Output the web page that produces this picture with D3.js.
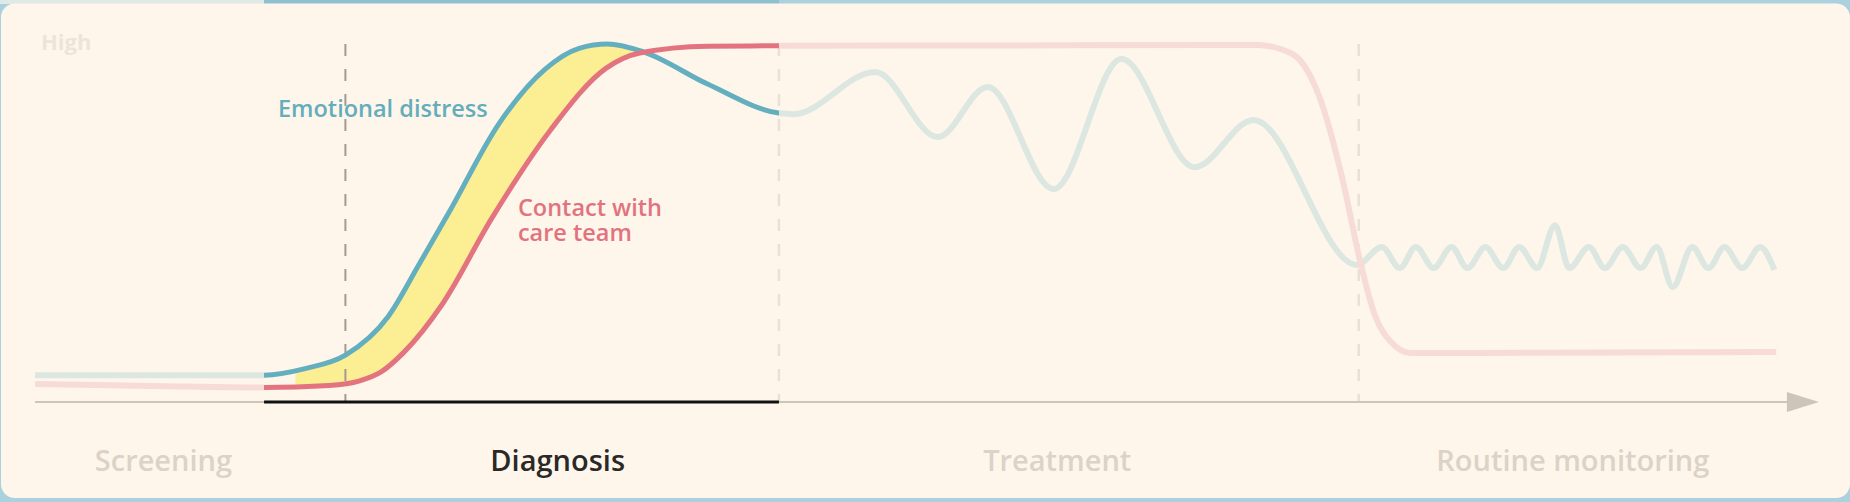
<!DOCTYPE html>
<html>
<head>
<meta charset="utf-8">
<script src="https://cdn.jsdelivr.net/npm/d3@7"></script>
<style>
  html, body { margin: 0; padding: 0; background: #aad1dd; }
  svg { display: block; }
  text { font-family: "Open Sans", "Noto Sans", sans-serif; }
</style>
</head>
<body>
<div id="chart"></div>
<script>
// phases of the care pathway, and where each one starts on the time axis (0-100)
const phases = ["Screening", "Diagnosis", "Treatment", "Routine monitoring"];
const phaseStart = [0, 12.84, 41.7, 74.2];
const phaseLabelAt = [7.2, 29.3, 57.3, 86.2];
const activePhase = "Diagnosis";
const diagnosisMoment = 17.4;   // darker dashed marker
const gapStart = 14.6;          // yellow gap between the two curves starts here

// emotional distress (level 0-100)
const distressT = [0, 12.8, 15.2, 17.4, 19.8, 21.5, 23.2, 26.0, 28.6, 30.5, 32.1, 34.1, 37.7, 41.7,
  42.5, 47.1, 50.6, 53.4, 57.1, 60.9, 65.0, 68.3, 74.1,
  75.5, 76.5, 77.4, 78.4, 79.4, 80.3, 81.3, 82.3, 83.2, 84.2, 85.2, 86.0, 87.1, 88.0,
  89.0, 90.0, 90.9, 91.8, 92.9, 93.8, 94.7, 95.7, 96.7, 97.5];
const distressLevel = [7.5, 7.5, 9.4, 13.1, 23.9, 38.2, 52.9, 77.7, 93.0, 98.8, 100, 97.8, 88.8, 80.7,
  80.4, 92.2, 74.0, 88.0, 59.5, 95.8, 65.6, 78.8, 38.3,
  43.3, 37.4, 43.3, 37.4, 43.3, 37.4, 43.3, 37.4, 43.3, 37.4, 49.4, 37.4, 43.3, 37.4,
  43.3, 37.4, 43.3, 32.1, 43.3, 37.4, 43.3, 37.4, 43.3, 36.9];

// contact with care team (level 0-100)
const contactT = [0, 6.5, 12.8, 16.5, 18.2, 19.4, 20.7, 22.8, 25.6, 28.9, 32.0, 33.9, 37.7, 41.7,
  54.1, 68.5, 69.8, 70.9, 72.0, 73.3, 74.3, 75.1, 76.0, 77.1, 97.6];
const contactLevel = [5.0, 4.5, 4.05, 4.6, 5.9, 8.4, 14.0, 27.1, 51.3, 76.0, 93.2, 97.5, 99.4, 99.5,
  99.6, 99.7, 98.6, 95.5, 85.2, 62.0, 38.8, 24.3, 16.8, 13.7, 14.0];

const width = 1850, height = 502;
const distress = d3.zip(distressT, distressLevel);
const contact = d3.zip(contactT, contactLevel);

const svg = d3.select("#chart").append("svg")
  .attr("width", width)
  .attr("height", height);

const x = d3.scaleLinear().domain([0, 100]).range([35, 1819]);
const y = d3.scaleLinear().domain([0, 100]).range([402, 44]);

// card
svg.append("rect").attr("x", 0).attr("y", 0).attr("width", 264).attr("height", 4).attr("fill", "#dfe9e5");
svg.append("rect").attr("x", x(phaseStart[1])).attr("y", 0)
  .attr("width", x(phaseStart[2]) - x(phaseStart[1])).attr("height", 4).attr("fill", "#8fc0d0");
svg.append("rect")
  .attr("x", 1).attr("y", 3.5)
  .attr("width", 1849).attr("height", 494.5)
  .attr("rx", 14)
  .attr("fill", "#fef6eb");

const defs = svg.append("defs");
const a0 = x(phaseStart[1]), a1 = x(phaseStart[2]);
defs.append("clipPath").attr("id", "active")
  .append("rect").attr("x", a0).attr("y", 0).attr("width", a1 - a0).attr("height", height);
const inactive = defs.append("clipPath").attr("id", "inactive");
inactive.append("rect").attr("x", 0).attr("y", 0).attr("width", a0).attr("height", height);
inactive.append("rect").attr("x", a1).attr("y", 0).attr("width", width - a1).attr("height", height);
defs.append("clipPath").attr("id", "gap")
  .append("rect").attr("x", x(gapStart)).attr("y", 0).attr("width", a1 - x(gapStart)).attr("height", height);

const line = d3.line()
  .x(d => x(d[0]))
  .y(d => y(d[1]))
  .curve(d3.curveMonotoneX);

// region above the contact curve, used to cut the yellow gap
defs.append("clipPath").attr("id", "aboveContact")
  .append("path")
  .attr("d", d3.area().x(d => x(d[0])).y0(0).y1(d => y(d[1])).curve(d3.curveMonotoneX)(contact));

svg.append("g").attr("clip-path", "url(#gap)")
  .append("path")
  .attr("clip-path", "url(#aboveContact)")
  .attr("d", d3.area().x(d => x(d[0])).y0(y(0)).y1(d => y(d[1])).curve(d3.curveMonotoneX)(distress))
  .attr("fill", "#fbee93");

// "High" marker
svg.append("text")
  .attr("x", 41).attr("y", 50)
  .style("font-size", "22px").style("font-weight", 700)
  .attr("fill", "#ece4da")
  .text("High");

// series labels
svg.append("text")
  .attr("x", x(13.62)).attr("y", 117)
  .style("font-size", "23.5px").style("font-weight", 600)
  .attr("fill", "#63adbd")
  .text("Emotional distress");
svg.append("text")
  .attr("x", x(27.07)).attr("y", 216)
  .style("font-size", "23.5px").style("font-weight", 600)
  .attr("fill", "#e2737e")
  .text("Contact with");
svg.append("text")
  .attr("x", x(27.07)).attr("y", 241)
  .style("font-size", "23.5px").style("font-weight", 600)
  .attr("fill", "#e2737e")
  .text("care team");

// dashed dividers
svg.append("line")
  .attr("x1", x(diagnosisMoment)).attr("x2", x(diagnosisMoment))
  .attr("y1", y(100)).attr("y2", y(0))
  .attr("stroke", "#a39a93").attr("stroke-width", 2)
  .attr("stroke-dasharray", "12,13");
svg.selectAll(".divider")
  .data(phaseStart.slice(2))
  .enter().append("line")
  .attr("class", "divider")
  .attr("x1", d => x(d)).attr("x2", d => x(d))
  .attr("y1", y(100)).attr("y2", y(0))
  .attr("stroke", "#e9e1d7").attr("stroke-width", 2.5)
  .attr("stroke-dasharray", "12,13");

// time axis with arrow
svg.append("line")
  .attr("x1", x(0)).attr("x2", x(98.3))
  .attr("y1", y(0)).attr("y2", y(0))
  .attr("stroke", "#cdc4ba").attr("stroke-width", 2);
svg.append("path")
  .attr("d", `M${x(98.2)},${y(0) - 10}L${x(100)},${y(0)}L${x(98.2)},${y(0) + 10}Z`)
  .attr("fill", "#cdc4ba");
svg.append("line")
  .attr("x1", a0).attr("x2", a1)
  .attr("y1", y(0)).attr("y2", y(0))
  .attr("stroke", "#111").attr("stroke-width", 3);

// phase labels
svg.selectAll(".phase")
  .data(phases)
  .enter().append("text")
  .attr("class", "phase")
  .attr("x", (d, i) => x(phaseLabelAt[i]))
  .attr("y", 471)
  .attr("text-anchor", "middle")
  .style("font-size", "29px").style("font-weight", 600)
  .attr("fill", d => d === activePhase ? "#2b2927" : "#dbd2c8")
  .text(d => d);

// faded curves outside the active phase
svg.append("path").attr("clip-path", "url(#inactive)")
  .attr("d", line(distress)).attr("fill", "none")
  .attr("stroke", "#dce7e1").attr("stroke-width", 6);
svg.append("path").attr("clip-path", "url(#inactive)")
  .attr("d", line(contact)).attr("fill", "none")
  .attr("stroke", "#f6dbd6").attr("stroke-width", 6);

// strong curves inside the active phase
svg.append("path").attr("clip-path", "url(#active)")
  .attr("d", line(distress)).attr("fill", "none")
  .attr("stroke", "#64afbf").attr("stroke-width", 5);
svg.append("path").attr("clip-path", "url(#active)")
  .attr("d", line(contact)).attr("fill", "none")
  .attr("stroke", "#e3737e").attr("stroke-width", 5);
</script>
</body>
</html>
